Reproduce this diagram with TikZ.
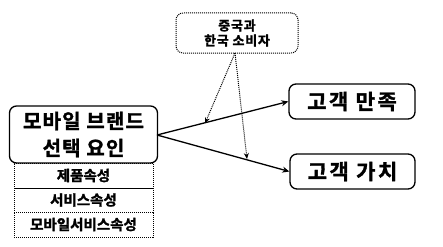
\documentclass[tikz,border=0pt]{standalone}
\usepackage{fontspec}
\setmainfont{Noto Sans CJK KR}[BoldFont={Noto Sans CJK KR Bold},BoldFeatures={FakeBold=1.5}]
\newfontfamily\krwide{Noto Sans CJK KR}[BoldFont={Noto Sans CJK KR Bold},BoldFeatures={FakeBold=1.5},LetterSpace=12]
\newfontfamily\krmid{Noto Sans CJK KR}[BoldFont={Noto Sans CJK KR Bold},BoldFeatures={FakeBold=1.5},LetterSpace=6]
\usetikzlibrary{arrows.meta}
\begin{document}
\begin{tikzpicture}[x=1pt,y=-1pt,
  solidbox/.style={draw,line width=1.3pt,rounded corners=7pt,inner sep=0pt,font=\bfseries},
  dotbox/.style={draw,densely dotted,line width=1pt,inner sep=0pt,font=\bfseries\fontsize{14.5}{16}\selectfont},
  mainarrow/.style={line width=1.3pt,-{Stealth[length=7pt,width=6pt]}},
  dotarrow/.style={densely dotted,line width=1pt,-{Stealth[length=6pt,width=5pt]}}]
\useasboundingbox (0,0) rectangle (443,246);
\node[solidbox,minimum width=148pt,minimum height=57pt,align=center,font=\krmid\bfseries\fontsize{20}{27}\selectfont] (main) at (83.5,134.5) {모바일 브랜드\\선택 요인};
\node[dotbox,minimum width=139pt,minimum height=25pt] (s1) at (83.5,175.5) {제품속성};
\node[dotbox,minimum width=139pt,minimum height=24pt] (s2) at (83.5,200) {서비스속성};
\node[dotbox,minimum width=139pt,minimum height=25pt] (s3) at (83.5,224.5) {모바일서비스속성};
\node[draw,densely dotted,line width=1pt,rounded corners=7pt,minimum width=122pt,minimum height=40pt,align=center,font=\krmid\bfseries\fontsize{13}{15}\selectfont] (top) at (237,33) {중국과\\한국 소비자};
\node[solidbox,minimum width=126pt,minimum height=35pt,font=\krwide\bfseries\fontsize{21}{24}\selectfont] (sat) at (352,101.5) {고객 만족};
\node[solidbox,minimum width=125pt,minimum height=35pt,font=\krwide\bfseries\fontsize{21}{24}\selectfont] (val) at (352.5,171.5) {고객 가치};
\coordinate (o) at (157,135);
\coordinate (p1) at (205,123.4);
\coordinate (p2) at (247,159);
\coordinate (t) at (235,53);
\draw[mainarrow] (o) -- (sat.west);
\draw[mainarrow] (o) -- (val.west);
\draw[dotarrow] (t) -- (p1);
\draw[dotarrow] (t) -- (p2);
\end{tikzpicture}
\end{document}
